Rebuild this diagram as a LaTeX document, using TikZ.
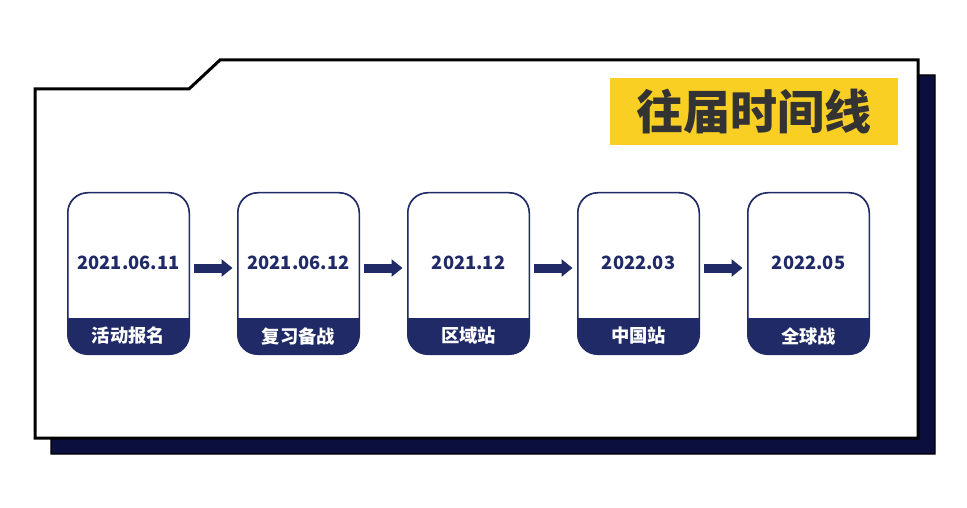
\documentclass[tikz,border=0pt]{standalone}
\usepackage{fontspec}
\setmainfont{Noto Sans CJK SC}
\usetikzlibrary{arrows.meta,calc}
\definecolor{navy}{HTML}{1F2A66}
\definecolor{shadownavy}{HTML}{0A0F3E}
\definecolor{titleyellow}{HTML}{F9CF24}
\definecolor{titletext}{HTML}{333333}
\tikzset{
  card/.style={draw=navy, line width=1pt, rounded corners=20pt, minimum width=121pt, minimum height=161pt, inner sep=0pt, fill=white},
  datetext/.style={text=navy, font=\fontsize{18.3}{21}\selectfont\bfseries},
  labeltext/.style={text=white, font=\fontsize{18.3}{21}\selectfont\bfseries},
  flow/.style={-{Triangle[length=11pt,width=17pt]}, line width=9pt, draw=navy},
}
\begin{document}
\begin{tikzpicture}[x=1pt,y=-1pt]
\useasboundingbox (0,0) rectangle (967,508);
% shadow
\draw[fill=shadownavy, draw=black, line width=1.2pt] (51,104) -- (205,104) -- (236,75) -- (935,75) -- (935,454) -- (51,454) -- cycle;
% frame
\draw[fill=white, draw=black, line width=3pt, line join=miter] (35,89) -- (189,89) -- (220,60) -- (918,60) -- (918,438) -- (35,438) -- cycle;
% title
\node[fill=titleyellow, minimum width=288pt, minimum height=67pt, inner sep=0pt, text=titletext, font=\fontsize{47}{52}\selectfont\bfseries] (title) at (754,111.5) {往届时间线};
% cards
\foreach \i/\x/\d/\l in {1/128.5/2021.06.11/活动报名, 2/298.5/2021.06.12/复习备战, 3/468.5/2021.12/区域站, 4/638.5/2022.03/中国站, 5/808.5/2022.05/全球战}{
  \node[card] (c\i) at (\x,273.5) {};
  \begin{scope}
    \clip[rounded corners=20pt] (c\i.south west) rectangle (c\i.north east);
    \fill[navy] (c\i.south west) rectangle ++(121,-37);
  \end{scope}
  \draw[navy, line width=1pt, rounded corners=20pt] (c\i.south west) rectangle (c\i.north east);
  \node[datetext] (d\i) at (\x,263) {\d};
  \node[labeltext] (l\i) at (\x,336) {\l};
}
\foreach \a/\b in {1/2,2/3,3/4,4/5}{
  \draw[flow] ([xshift=4pt,yshift=5.5pt]c\a.east) -- ([xshift=-5pt,yshift=5.5pt]c\b.west);
}
\end{tikzpicture}
\end{document}
